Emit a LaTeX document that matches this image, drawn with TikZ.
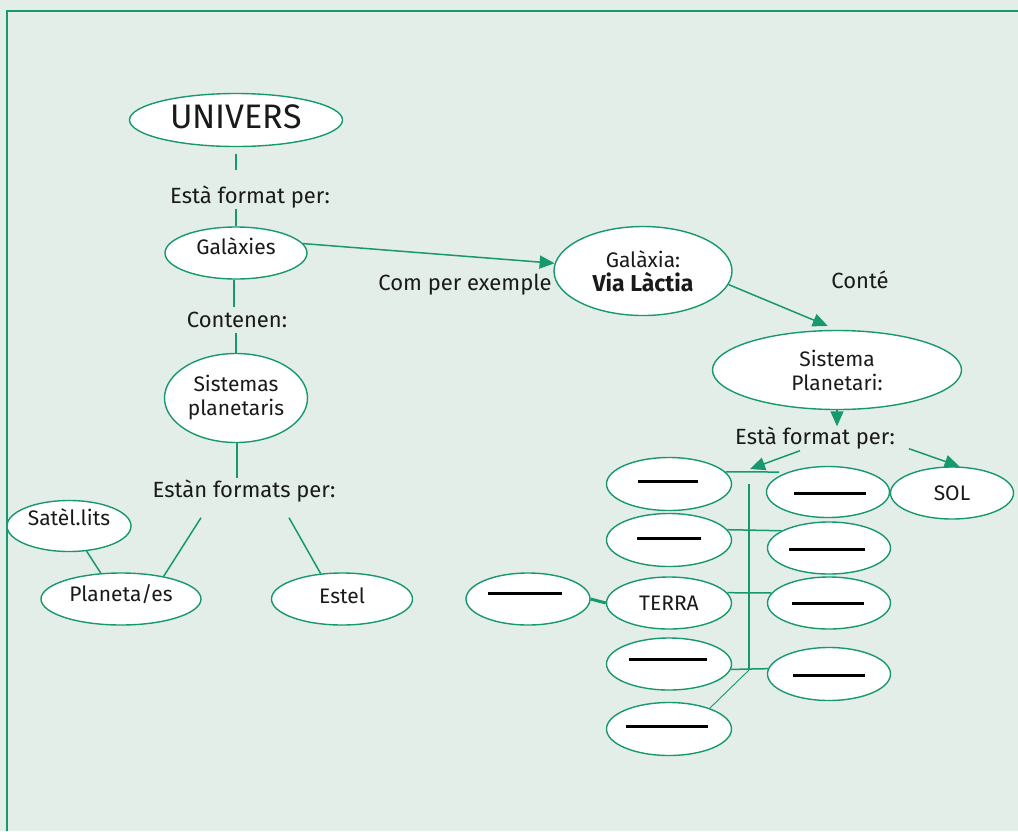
\documentclass[tikz,border=0pt]{standalone}
\usepackage{fontspec}
\setmainfont{Fira Sans}
\usepackage{tikz}
\usetikzlibrary{arrows.meta}
\usetikzlibrary{calc}
\usetikzlibrary{shapes.geometric}
\definecolor{bg_green}{HTML}{E3EEE8}
\definecolor{line_green}{HTML}{17986F}
\definecolor{text_black}{HTML}{1A1A1A}

\begin{document}
\begin{tikzpicture}[x=1pt, y=-1pt, text=text_black,
        node_style/.style={ellipse,draw=line_green,fill=white,line width=1.4pt,inner sep=0pt,font=\fontsize{21}{24}\selectfont,text height=14.5pt,text depth=0pt},
        multi_node_style/.style={ellipse,draw=line_green,fill=white,line width=1.4pt,inner sep=0pt,align=center,font=\fontsize{21}{24}\selectfont},
        label_style/.style={inner sep=0pt,font=\fontsize{22}{26}\selectfont,text height=15pt,text depth=0pt},
        edge_style/.style={draw=line_green, line width=1.5pt,-},
        thin_edge_style/.style={draw=line_green, line width=0.9pt,-},
        thick_edge_style/.style={draw=line_green, line width=3pt,-},
        arrow_style/.style={draw=line_green, line width=1.5pt,-{Triangle[length=15pt,width=13pt]}},
        blank_style/.style={draw=black, line width=3pt}]

        \useasboundingbox (0,0) rectangle (1018,831);
        \fill [bg_green] (0,0) rectangle (1018,831);
        \draw [line_green, line width=2pt] (1018,11) -- (7,11) -- (7,831);

        % left tree
        \node [node_style, minimum width=213pt, minimum height=53pt, font=\fontsize{34}{38}\selectfont, text height=23.5pt, text depth=7pt](univers) at (236,120) {UNIVERS};
        \node [label_style](est1) at (250,196) {Està format per:};
        \node [node_style, minimum width=142pt, minimum height=52pt, text depth=11pt](galaxies) at (236,253) {Galàxies};
        \node [label_style](contenen) at (237,320) {Contenen:};
        \node [multi_node_style, minimum width=143pt, minimum height=89pt](sistemas) at (236,398) {Sistemas\\planetaris};
        \node [label_style](est3) at (244,490) {Estàn formats per:};
        \node [node_style, minimum width=124pt, minimum height=51pt, text depth=16pt](satelits) at (69,526) {Satèl.lits};
        \node [node_style, minimum width=160pt, minimum height=52pt, text depth=9pt](planeta) at (121,599) {Planeta/es};
        \node [node_style, minimum width=141pt, minimum height=52pt, text depth=5pt](estel) at (342,599) {Estel};

        \draw [edge_style, shorten <=6.5pt, shorten >=18pt] (univers.south) -- (univers.south |- est1.north);
        \draw [edge_style, shorten <=5pt] (galaxies.north |- est1.south) -- (galaxies.north);
        \draw [edge_style, shorten >=5pt] ([xshift=-2pt]galaxies.south) -- ([xshift=-2pt]galaxies.south |- contenen.north);
        \draw [edge_style, shorten <=5pt] (sistemas.north |- contenen.south) -- (sistemas.north);
        \draw [edge_style, shorten >=4pt] ([xshift=1pt]sistemas.south) -- ([xshift=1pt]sistemas.south |- est3.north);
        \draw [edge_style] ([xshift=-43pt,yshift=-20pt]est3.south) -- (planeta.28);
        \draw [edge_style] ([xshift=45pt,yshift=-20pt]est3.south) -- (estel.130);
        \draw [edge_style] (satelits.-55) -- (planeta.128);

        % Via Lactia branch
        \node [label_style](exemple) at (465,283) {Com per exemple};
        \node [multi_node_style, minimum width=178pt, minimum height=89pt](vialactia) at (643,271) {Galàxia:\\\fontsize{23}{26}\selectfont\textbf{Via Làctia}};
        \node [label_style](conte) at (860,281) {Conté};
        \node [multi_node_style, minimum width=249pt, minimum height=79pt](sistema) at (837,370) {Sistema\\Planetari:};
        \node [label_style](est2) at (815,437) {Està format per:};

        \draw [arrow_style] (galaxies.8) -- (vialactia.175);
        \draw [arrow_style, shorten >=10pt] (vialactia.-9) -- (sistema.north);
        \draw [arrow_style, shorten >=3pt] (sistema.south) -- (sistema.south |- est2.north);

        % solar system
        \node [node_style, minimum width=125pt, minimum height=53pt](l1) at (669,484) {};
        \node [node_style, minimum width=125pt, minimum height=53pt](l2) at (669,540) {};
        \node [node_style, minimum width=125pt, minimum height=52pt](terra) at (669,603) {TERRA};
        \node [node_style, minimum width=125pt, minimum height=52pt](l4) at (669,664) {};
        \node [node_style, minimum width=125pt, minimum height=53pt](l5) at (669,729) {};
        \node [node_style, minimum width=123pt, minimum height=51pt](r1) at (828,492) {};
        \node [node_style, minimum width=123pt, minimum height=52pt](r2) at (829,548) {};
        \node [node_style, minimum width=123pt, minimum height=52pt](r3) at (829,603) {};
        \node [node_style, minimum width=123pt, minimum height=53pt](r4) at (829,674) {};
        \node [node_style, minimum width=123pt, minimum height=52pt](sol) at (952,493) {SOL};
        \node [node_style, minimum width=124pt, minimum height=52pt](moon) at (528,599) {};

        \coordinate (bar_end) at (779,472);
        \coordinate (bar_hit) at (750,469);
        \coordinate (spine_top) at (749,484);
        \coordinate (spine_bot) at (749,670);

        \draw [arrow_style] ([xshift=-15pt,yshift=-6pt]est2.south) -- (bar_hit);
        \draw [arrow_style] ([xshift=94pt,yshift=-4pt]est2.south) -- (sol.74);
        \draw [edge_style] (l1.12) -- (bar_end);
        \draw [edge_style] (spine_top) -- (spine_bot);
        \draw [edge_style] (l2.10) -- (r2.160);
        \draw [edge_style] (terra.10) -- (r3.170);
        \draw [edge_style] (l4.-5) -- (r4.175);
        \draw [thin_edge_style] (spine_bot) -- (l5.27);
        \draw [thick_edge_style] (moon.east) -- (terra.west);

        % blanks to fill in
        \foreach \n/\dx/\hw/\dy in {l1/-1/30/-3, l2/0/32/-2, l4/-1/39/-5, l5/-2/41/-3,
                r1/2/36/1, r2/-2/38/1, r3/-1/36/0, r4/0/36/1, moon/-3/37/-6}
            \draw [blank_style] ($(\n)+(\dx-\hw,\dy)$) -- ++(2*\hw,0);
\end{tikzpicture}
\end{document}
